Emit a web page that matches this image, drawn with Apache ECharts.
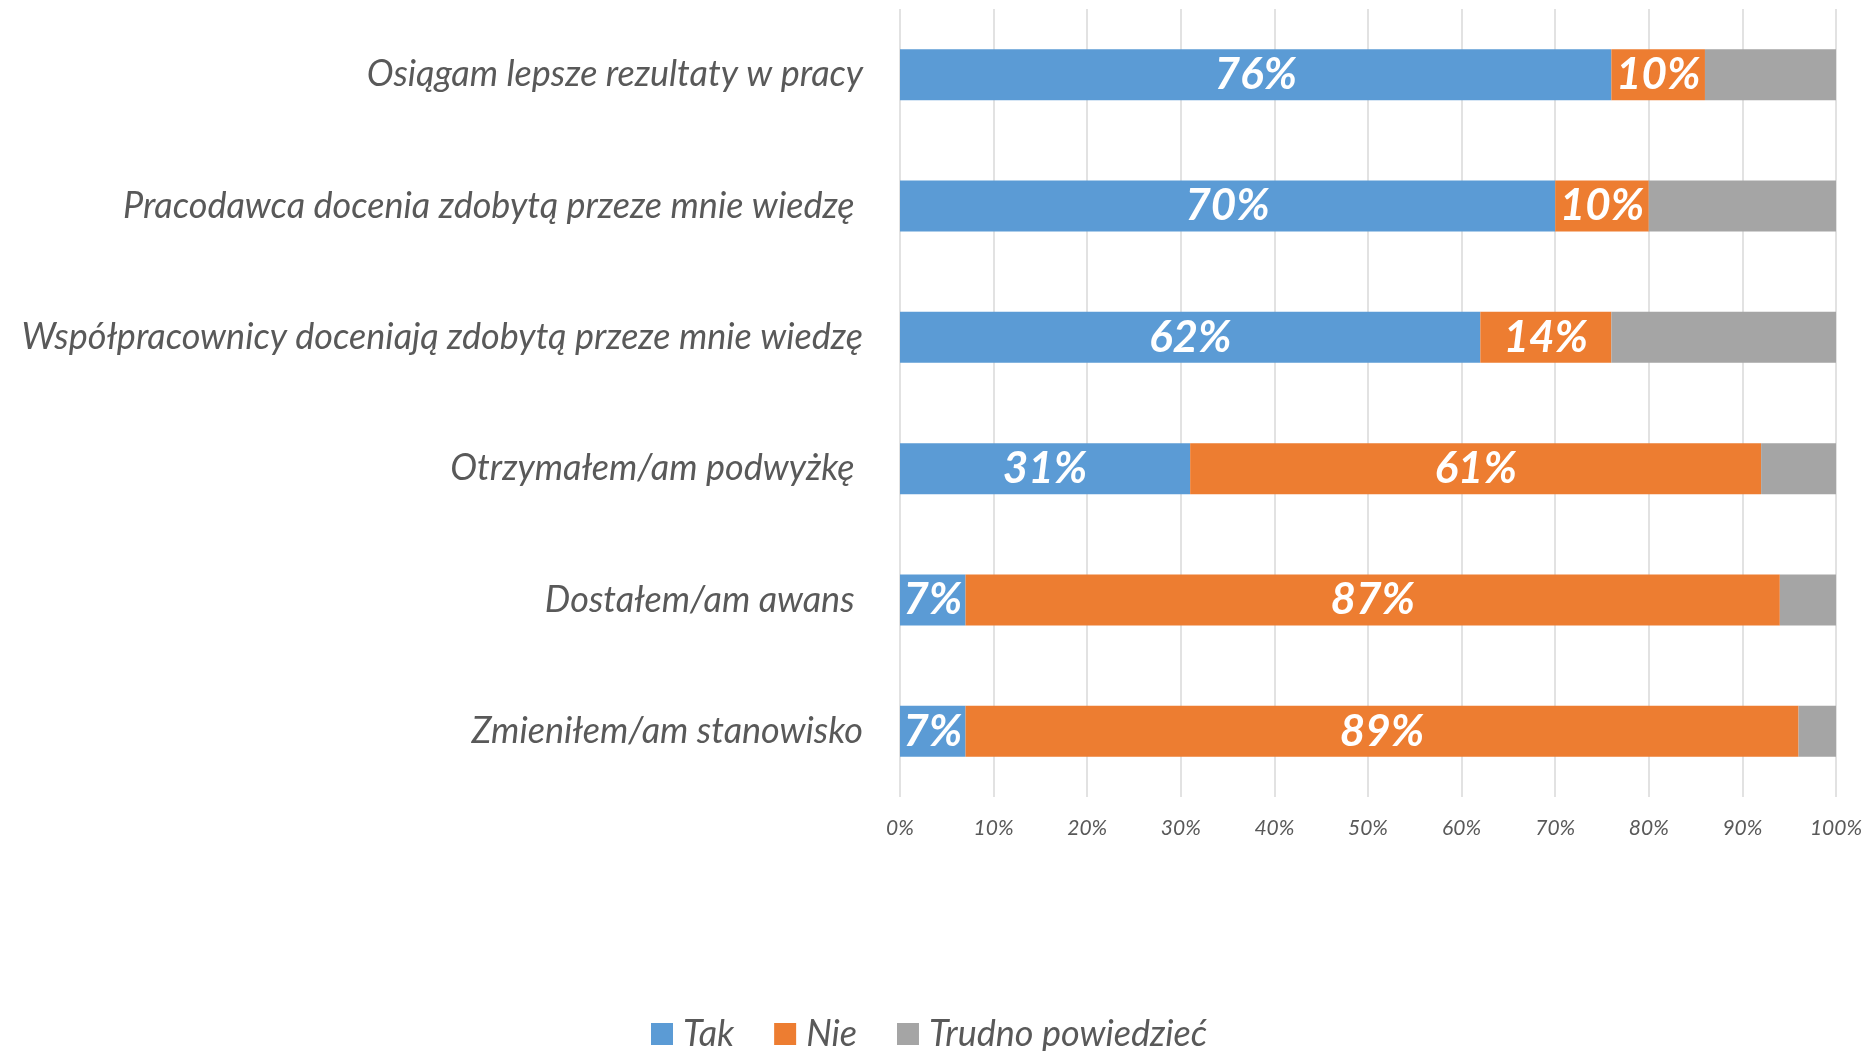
<!DOCTYPE html>
<html>
<head>
<meta charset="utf-8">
<script src="https://cdn.jsdelivr.net/npm/echarts@6/dist/echarts.min.js"></script>
<style>
  html, body { margin: 0; padding: 0; background: #fff; }
  #main { width: 1875px; height: 1051px; }
</style>
</head>
<body>
<div id="main"></div>
<script>
// kategorie (od góry)
var categories = [
  'Osiągam lepsze rezultaty w pracy',
  'Pracodawca docenia zdobytą przeze mnie wiedzę ',
  'Współpracownicy doceniają zdobytą przeze mnie wiedzę',
  'Otrzymałem/am podwyżkę ',
  'Dostałem/am awans ',
  'Zmieniłem/am stanowisko'
];
var tak = [76, 70, 62, 31, 7, 7];
var nie = [10, 10, 14, 61, 87, 89];
var trudno = [14, 20, 24, 8, 6, 4];
var xTicks = [0, 10, 20, 30, 40, 50, 60, 70, 80, 90, 100];

var font = 'Lato';
var myChart = echarts.init(document.getElementById('main'));

var labelStyle = {
  show: true,
  position: 'inside',
  color: '#fff',
  fontFamily: font,
  fontStyle: 'italic',
  fontWeight: 'bold',
  fontSize: 44,
  padding: [7, 0, 0, 0],
  formatter: '{c}%'
};

myChart.setOption({
  animation: false,
  grid: {
    left: 900,
    right: 39,
    top: 9,
    bottom: 254,
    containLabel: false
  },
  legend: {
    bottom: -6,
    left: 646,
    itemWidth: 22,
    itemHeight: 22,
    itemGap: 40,
    icon: 'rect',
    textStyle: {
      fontFamily: font,
      fontStyle: 'italic',
      fontSize: 36,
      color: '#595959',
      padding: [0, 0, 0, 5]
    },
    data: ['Tak', 'Nie', 'Trudno powiedzieć']
  },
  xAxis: {
    type: 'value',
    min: xTicks[0],
    max: xTicks[xTicks.length - 1],
    interval: 10,
    axisLine: { show: false },
    axisTick: { show: false },
    splitLine: { lineStyle: { color: '#D9D9D9', width: 1.5 } },
    axisLabel: {
      formatter: '{value}%',
      margin: 21,
      fontFamily: font,
      fontStyle: 'italic',
      fontSize: 21,
      color: '#595959'
    }
  },
  yAxis: {
    type: 'category',
    inverse: true,
    data: categories,
    axisLine: { show: false },
    axisTick: { show: false },
    axisLabel: {
      margin: 37,
      fontFamily: font,
      fontStyle: 'italic',
      fontSize: 36,
      color: '#595959'
    }
  },
  series: [
    {
      name: 'Tak',
      type: 'bar',
      stack: 'all',
      barWidth: 51,
      data: tak,
      itemStyle: { color: '#5B9BD5' },
      label: labelStyle
    },
    {
      name: 'Nie',
      type: 'bar',
      stack: 'all',
      barWidth: 51,
      data: nie,
      itemStyle: { color: '#ED7D31' },
      label: labelStyle
    },
    {
      name: 'Trudno powiedzieć',
      type: 'bar',
      stack: 'all',
      barWidth: 51,
      data: trudno,
      itemStyle: { color: '#A5A5A5' },
      label: { show: false }
    }
  ]
});
</script>
</body>
</html>
